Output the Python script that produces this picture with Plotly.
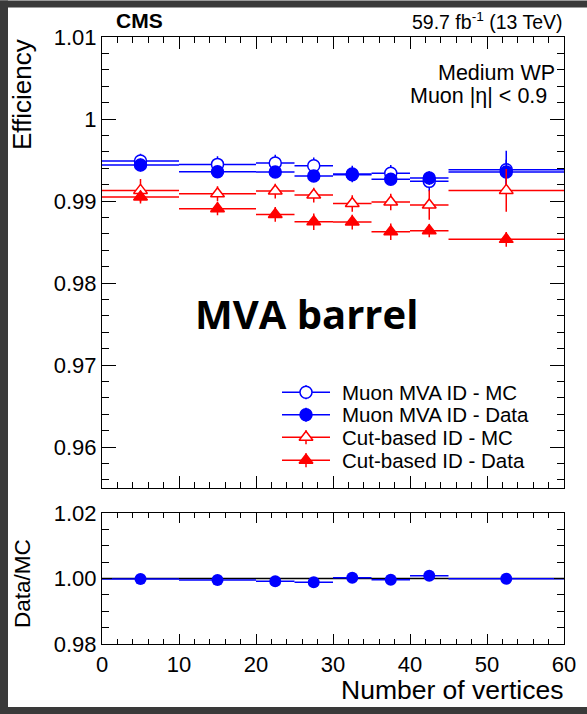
import plotly.graph_objects as go

# ---------------- data ----------------
bin_centers = [5, 15, 22.5, 27.5, 32.5, 37.5, 42.5, 52.5]
bin_halfwidths = [5, 5, 2.5, 2.5, 2.5, 2.5, 2.5, 7.5]

mva_mc = [0.99488, 0.99447, 0.99463, 0.99430, 0.99330, 0.99338, 0.99240, 0.99382]
mva_mc_err = [0.0009, 0.0010, 0.0010, 0.0010, 0.0010, 0.0010, 0.0012, 0.0023]
mva_data = [0.99439, 0.99357, 0.99354, 0.99305, 0.99321, 0.99265, 0.99280, 0.99354]
mva_data_err = [0.0008, 0.0007, 0.0007, 0.0007, 0.0007, 0.0007, 0.0008, 0.0015]
cut_mc = [0.99130, 0.99089, 0.99122, 0.99073, 0.98971, 0.98988, 0.98951, 0.99130]
cut_mc_err = [0.0014, 0.0009, 0.0009, 0.0009, 0.0010, 0.0010, 0.0018, 0.0026]
cut_data = [0.99050, 0.98906, 0.98837, 0.98748, 0.98744, 0.98626, 0.98638, 0.98533]
cut_data_err = [0.0008, 0.0008, 0.0009, 0.0010, 0.0009, 0.0010, 0.0008, 0.0009]

ratio = [0.9998, 0.9995, 0.9991, 0.9988, 1.0002, 0.9996, 1.0008, 0.9999]
ratio_err = [0.0004, 0.0004, 0.0004, 0.0004, 0.0004, 0.0004, 0.0005, 0.0012]

labels = ["Muon MVA ID - MC", "Muon MVA ID - Data", "Cut-based ID - MC", "Cut-based ID - Data"]

upper_yticks = [0.96, 0.97, 0.98, 0.99, 1.0, 1.01]
upper_yticktext = ["0.96", "0.97", "0.98", "0.99", "1", "1.01"]
lower_yticks = [0.98, 1.0, 1.02]
lower_yticktext = ["0.98", "1.00", "1.02"]
xticks = [0, 10, 20, 30, 40, 50, 60]

# ---------------- layout geometry ----------------
W, H = 587, 714
L, R, T, B = 102, 564, 36.5, 644
UPPER_BOTTOM = 488
LOWER_TOP = 512.7
FONT = "Liberation Sans, Arial, sans-serif"
BLUE = "#0000ff"
RED = "#ff0000"


def px(x):
    return (x - L) / (R - L)


def py(y):
    return (B - y) / (B - T)


fig = go.Figure()

# (line colour, symbol, fill colour, size)
styles = [
    (BLUE, "circle", "white", 12),
    (BLUE, "circle", BLUE, 12),
    (RED, "triangle-up", "white", 12),
    (RED, "triangle-up", RED, 12),
]
series = [(mva_mc, mva_mc_err), (mva_data, mva_data_err), (cut_mc, cut_mc_err), (cut_data, cut_data_err)]
for (vals, errs), (col, sym, fill, sz), name in zip(series, styles, labels):
    fig.add_trace(go.Scatter(
        x=bin_centers, y=vals, mode="markers", xaxis="x", yaxis="y",
        marker=dict(symbol=sym, size=sz, color=fill, line=dict(color=col, width=1.5)),
        error_x=dict(type="data", array=bin_halfwidths, color=col, thickness=1.5, width=0),
        error_y=dict(type="data", array=errs, color=col, thickness=1.5, width=0),
        showlegend=False, name=name,
    ))

# lower panel reference line
fig.add_trace(go.Scatter(x=[0, 60], y=[1.0, 1.0], mode="lines", xaxis="x2", yaxis="y2",
                         line=dict(color="black", width=1.5), showlegend=False, hoverinfo="skip"))
fig.add_trace(go.Scatter(
    x=bin_centers, y=ratio, mode="markers", xaxis="x2", yaxis="y2",
    marker=dict(symbol="circle", size=12, color=BLUE),
    error_x=dict(type="data", array=bin_halfwidths, color=BLUE, thickness=1.5, width=0),
    error_y=dict(type="data", array=ratio_err, color=BLUE, thickness=1.5, width=0),
    showlegend=False,
))

# ---------------- manual legend (overlay axis in pixel units) ----------------
LEG_X0, LEG_X1, LEG_TEXT_X = 282, 330, 340
LEG_ROWS = [392, 414.5, 437, 460]
for (col, sym, fill, sz), name, yrow in zip(styles, labels, LEG_ROWS):
    fig.add_trace(go.Scatter(
        x=[LEG_X0, LEG_X1], y=[yrow, yrow], mode="lines",
        xaxis="x3", yaxis="y3", line=dict(color=col, width=1.5), showlegend=False, hoverinfo="skip"))
    fig.add_trace(go.Scatter(
        x=[(LEG_X0 + LEG_X1) / 2], y=[yrow], mode="markers", xaxis="x3", yaxis="y3",
        marker=dict(symbol=sym, size=sz, color=fill, line=dict(color=col, width=1.5)),
        error_y=dict(type="constant", value=7, color=col, thickness=1.5, width=0),
        showlegend=False, hoverinfo="skip"))

axis_common = dict(showline=True, linecolor="black", linewidth=1.2, mirror="ticks",
                   ticks="inside", tickcolor="black", zeroline=False, showgrid=False,
                   tickfont=dict(family=FONT, size=22, color="black"))

upper_dom = [py(UPPER_BOTTOM), 1.0]
lower_dom = [0.0, py(LOWER_TOP)]

fig.update_layout(
    width=W, height=H,
    margin=dict(l=L, r=W - R, t=T, b=H - B, pad=0),
    paper_bgcolor="white", plot_bgcolor="white",
    font=dict(family=FONT, color="black"),
    xaxis=dict(**axis_common, domain=[0, 1], anchor="y", range=[0, 60],
               tickvals=xticks, showticklabels=False, ticklen=12,
               minor=dict(dtick=2, ticklen=6, ticks="inside", tickcolor="black")),
    yaxis=dict(**axis_common, domain=upper_dom, anchor="x", range=[0.955, 1.01],
               tickvals=upper_yticks, ticktext=upper_yticktext, ticklen=14,
               minor=dict(dtick=0.002, tick0=0.96, ticklen=7, ticks="inside", tickcolor="black")),
    xaxis2=dict(**axis_common, domain=[0, 1], anchor="y2", range=[0, 60],
                tickvals=xticks, ticktext=[str(v) for v in xticks], ticklen=10,
                minor=dict(dtick=2, ticklen=5, ticks="inside", tickcolor="black")),
    yaxis2=dict(**axis_common, domain=lower_dom, anchor="x2", range=[0.98, 1.02],
                tickvals=lower_yticks, ticktext=lower_yticktext, ticklen=10,
                minor=dict(dtick=0.005, tick0=0.98, ticklen=7, ticks="inside", tickcolor="black")),
    xaxis3=dict(domain=[0, 1], anchor="y3", range=[L, R], visible=False, overlaying="x"),
    yaxis3=dict(domain=upper_dom, anchor="x3", range=[UPPER_BOTTOM, T], visible=False, overlaying="y"),
    showlegend=False,
)

annotations = [
    dict(text="<b>CMS</b>", x=px(114), y=py(20), xanchor="left", yanchor="middle",
         font=dict(family=FONT, size=21)),
    dict(text="59.7 fb<sup>-1</sup> (13 TeV)", x=px(565), y=py(20), xanchor="right", yanchor="middle",
         font=dict(family=FONT, size=19.5)),
    dict(text="Medium WP", x=px(557), y=py(73), xanchor="right", yanchor="middle",
         font=dict(family=FONT, size=21.5)),
    dict(text="Muon |η| < 0.9", x=px(549), y=py(96), xanchor="right", yanchor="middle",
         font=dict(family=FONT, size=21.5)),
    dict(text="<b>MVA barrel</b>", x=px(306), y=py(313), xanchor="center", yanchor="middle",
         font=dict(family="Open Sans, sans-serif", size=40)),
    dict(text="Efficiency", x=px(22), y=py(37), xanchor="center", yanchor="top", textangle=-90,
         font=dict(family=FONT, size=26)),
    dict(text="Data/MC", x=px(22), y=py(584), xanchor="center", yanchor="middle", textangle=-90,
         font=dict(family=FONT, size=22.5)),
    dict(text="Number of vertices", x=px(565), y=py(690), xanchor="right", yanchor="middle",
         font=dict(family=FONT, size=26.5)),
]
for lbl, yrow in zip(labels, LEG_ROWS):
    annotations.append(dict(text=lbl, x=px(LEG_TEXT_X), y=py(yrow), xanchor="left", yanchor="middle",
                            font=dict(family=FONT, size=20.5)))
for a in annotations:
    a.update(xref="paper", yref="paper", showarrow=False)
fig.update_layout(annotations=annotations)

# dark screenshot frame
DARK = "#3a3a3a"
shapes = [
    dict(x0=px(0), x1=px(W), y0=py(0), y1=py(7)),
    dict(x0=px(0), x1=px(8), y0=py(0), y1=py(707)),
    dict(x0=px(0), x1=px(W), y0=py(707), y1=py(H)),
]
for s in shapes:
    s.update(type="rect", xref="paper", yref="paper", fillcolor=DARK, line=dict(width=0), layer="above")
fig.update_layout(shapes=shapes)

fig.write_html("out.html")
